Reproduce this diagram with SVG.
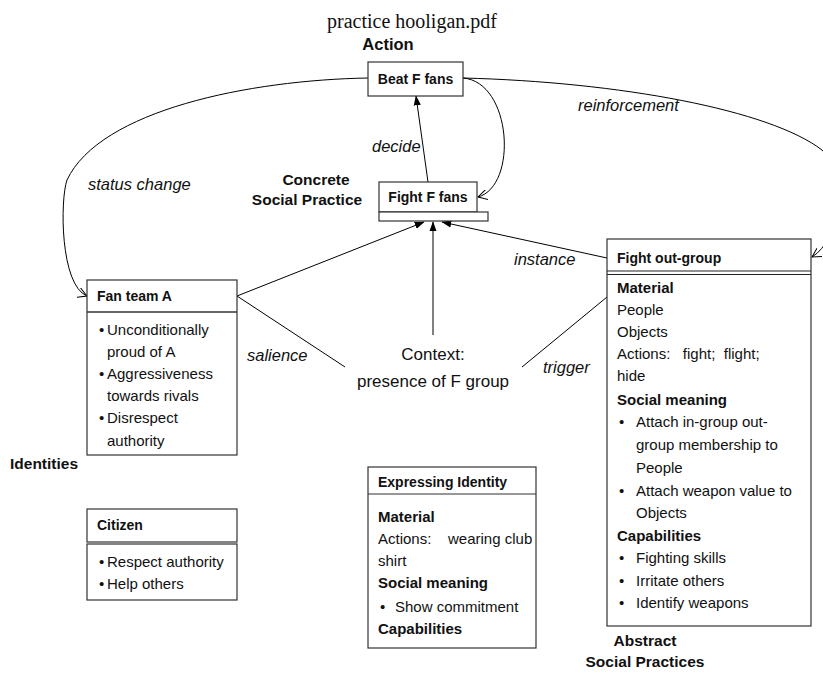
<svg xmlns="http://www.w3.org/2000/svg" width="823" height="673" viewBox="0 0 823 673">
<style>
  .box{fill:#fff;stroke:#333;stroke-width:1.2}
  .t{font-family:"Liberation Sans",Arial,sans-serif;font-size:15px;fill:#111}
  .b{font-family:"Liberation Sans",Arial,sans-serif;font-size:14px;font-weight:bold;fill:#111}
  .s{font-family:"Liberation Sans",Arial,sans-serif;font-size:15px;font-weight:bold;fill:#111}
  .h{font-family:"Liberation Sans",Arial,sans-serif;font-size:15.5px;font-weight:bold;fill:#111}
  .i{font-family:"Liberation Sans",Arial,sans-serif;font-size:16.5px;font-style:italic;fill:#111}
  .c{font-family:"Liberation Sans",Arial,sans-serif;font-size:17px;fill:#111}
  .ln{fill:none;stroke:#000;stroke-width:1}
</style>
<defs>
  <marker id="fill" markerWidth="10" markerHeight="14" refX="13" refY="5" viewBox="0 0 14 10" orient="auto" markerUnits="userSpaceOnUse">
    <path d="M0,0 L14,5 L0,10 Z" fill="#000"/>
  </marker>
  <marker id="open" markerWidth="10" markerHeight="10" refX="9" refY="5" viewBox="0 0 10 10" orient="auto" markerUnits="userSpaceOnUse">
    <path d="M0,0 L9,5 L0,10" fill="none" stroke="#000" stroke-width="1"/>
  </marker>
</defs>

<text x="412" y="28" text-anchor="middle" font-family="Liberation Serif,Times New Roman,serif" font-size="20" fill="#111">practice hooligan.pdf</text>
<text class="h" x="388" y="50" text-anchor="middle" style="font-size:16.5px">Action</text>
<text class="h" x="316" y="185" text-anchor="middle">Concrete</text>
<text class="h" x="307" y="205" text-anchor="middle">Social Practice</text>
<text class="h" x="10" y="469">Identities</text>
<text class="h" x="645" y="646" text-anchor="middle">Abstract</text>
<text class="h" x="645" y="667" text-anchor="middle">Social Practices</text>

<g id="connectors">
  <line class="ln" x1="237" y1="296" x2="424" y2="222" marker-end="url(#fill)"/>
  <line class="ln" x1="433" y1="335" x2="433" y2="222" marker-end="url(#fill)"/>
  <line class="ln" x1="607" y1="258" x2="442" y2="222" marker-end="url(#fill)"/>
  <line class="ln" x1="428" y1="182" x2="416" y2="96" marker-end="url(#fill)"/>
  <line class="ln" x1="237" y1="296" x2="345" y2="367"/>
  <line class="ln" x1="522" y1="367" x2="607" y2="297"/>
  <path class="ln" d="M463,78 C512,82 518,186 478,197" marker-end="url(#open)"/>
  <path class="ln" d="M463,78 C620,82 770,110 822,150 C850,175 840,240 812,257" marker-end="url(#open)"/>
  <path class="ln" d="M368,78 C250,80 100,110 67,180 C60,200 60,285 87,296" marker-end="url(#open)"/>
  <text class="i" x="372" y="152">decide</text>
  <text class="i" x="88" y="190">status change</text>
  <text class="i" x="578" y="111">reinforcement</text>
  <text class="i" x="514" y="265">instance</text>
  <text class="i" x="247" y="361">salience</text>
  <text class="i" x="543" y="373">trigger</text>
</g>

<g id="beat">
  <rect class="box" x="368" y="62" width="95" height="34"/>
  <text class="b" x="415.5" y="84" text-anchor="middle">Beat F fans</text>
</g>

<g id="fight">
  <rect class="box" x="379" y="182" width="98" height="30"/>
  <rect class="box" x="379" y="212" width="109" height="9"/>
  <text class="b" x="428" y="202" text-anchor="middle">Fight F fans</text>
</g>

<g id="context">
  <text class="c" x="433" y="360" text-anchor="middle">Context:</text>
  <text class="c" x="433" y="387" text-anchor="middle">presence of F group</text>
</g>

<g id="fanteam">
  <rect class="box" x="87" y="280" width="150" height="175"/>
  <line x1="87" y1="312" x2="237" y2="312" stroke="#333" stroke-width="1.5"/>
  <text class="b" x="97" y="301">Fan team A</text>
  <g class="t">
    <text x="99" y="335">•</text><text x="107" y="335">Unconditionally</text>
    <text x="107" y="357">proud of A</text>
    <text x="99" y="379">•</text><text x="107" y="379">Aggressiveness</text>
    <text x="107" y="401">towards rivals</text>
    <text x="99" y="423">•</text><text x="107" y="423">Disrespect</text>
    <text x="107" y="446">authority</text>
  </g>
</g>

<g id="citizen">
  <rect class="box" x="87" y="509" width="150" height="33"/>
  <rect class="box" x="87" y="544" width="150" height="56"/>
  <text class="b" x="97" y="530">Citizen</text>
  <g class="t">
    <text x="99" y="567">•</text><text x="107" y="567">Respect authority</text>
    <text x="99" y="589">•</text><text x="107" y="589">Help others</text>
  </g>
</g>

<g id="expressing">
  <rect class="box" x="368" y="467" width="168" height="181"/>
  <line x1="368" y1="494" x2="536" y2="494" stroke="#333" stroke-width="1.2"/>
  <text class="b" x="378" y="487">Expressing Identity</text>
  <text class="s" x="378" y="522">Material</text>
  <text class="t" x="378" y="544" xml:space="preserve">Actions:    wearing club</text>
  <text class="t" x="378" y="566">shirt</text>
  <text class="s" x="378" y="588">Social meaning</text>
  <text class="t" x="380" y="612">•</text><text class="t" x="395" y="612">Show commitment</text>
  <text class="s" x="378" y="634">Capabilities</text>
</g>

<g id="outgroup">
  <rect class="box" x="607" y="239" width="204" height="387"/>
  <line x1="607" y1="271" x2="811" y2="271" stroke="#222" stroke-width="1.2"/>
  <line x1="607" y1="274.5" x2="811" y2="274.5" stroke="#222" stroke-width="1.2"/>
  <text class="b" x="617" y="263">Fight out-group</text>
  <text class="s" x="617" y="293">Material</text>
  <g class="t">
    <text x="617" y="315">People</text>
    <text x="617" y="337">Objects</text>
    <text x="617" y="359" xml:space="preserve">Actions:   fight;  flight;</text>
    <text x="617" y="381">hide</text>
  </g>
  <text class="s" x="617" y="405">Social meaning</text>
  <g class="t">
    <text x="619" y="427">•</text><text x="636" y="427">Attach in-group out-</text>
    <text x="636" y="450">group membership to</text>
    <text x="636" y="473">People</text>
    <text x="619" y="496">•</text><text x="636" y="496">Attach weapon value to</text>
    <text x="636" y="518">Objects</text>
  </g>
  <text class="s" x="617" y="541">Capabilities</text>
  <g class="t">
    <text x="619" y="563">•</text><text x="636" y="563">Fighting skills</text>
    <text x="619" y="586">•</text><text x="636" y="586">Irritate others</text>
    <text x="619" y="608">•</text><text x="636" y="608">Identify weapons</text>
  </g>
</g>
</svg>
